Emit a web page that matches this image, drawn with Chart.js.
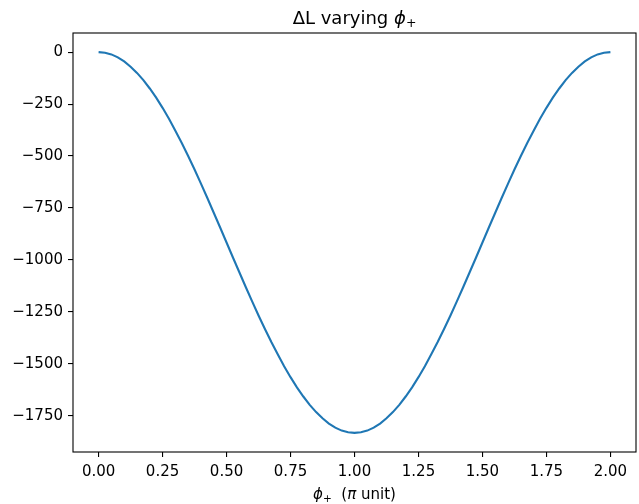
<!DOCTYPE html>
<html lang="en">
<head>
<meta charset="UTF-8">
<title>ΔL varying ϕ+</title>
<script src="https://cdn.jsdelivr.net/npm/chart.js"></script>
<style>
    body { margin: 0; background: #ffffff; }
    #wrap { width: 639px; height: 504px; }
</style>
</head>
<body>
<div id="wrap"><canvas id="dlChart"></canvas></div>
<script>
// phi_+ in units of pi, every 0.025
const phiValues = [0.000, 0.025, 0.050, 0.075, 0.100, 0.125, 0.150, 0.175, 0.200, 0.225,
                   0.250, 0.275, 0.300, 0.325, 0.350, 0.375, 0.400, 0.425, 0.450, 0.475,
                   0.500, 0.525, 0.550, 0.575, 0.600, 0.625, 0.650, 0.675, 0.700, 0.725,
                   0.750, 0.775, 0.800, 0.825, 0.850, 0.875, 0.900, 0.925, 0.950, 0.975,
                   1.000, 1.025, 1.050, 1.075, 1.100, 1.125, 1.150, 1.175, 1.200, 1.225,
                   1.250, 1.275, 1.300, 1.325, 1.350, 1.375, 1.400, 1.425, 1.450, 1.475,
                   1.500, 1.525, 1.550, 1.575, 1.600, 1.625, 1.650, 1.675, 1.700, 1.725,
                   1.750, 1.775, 1.800, 1.825, 1.850, 1.875, 1.900, 1.925, 1.950, 1.975, 2.000];
// Delta L
const deltaL = [0, -3, -11, -25, -45, -70, -100, -135, -175, -219,
                -268, -321, -378, -437, -500, -565, -633, -702, -773, -844,
                -916, -988, -1059, -1130, -1199, -1267, -1332, -1395, -1454, -1511,
                -1564, -1613, -1657, -1697, -1732, -1762, -1787, -1807, -1821, -1829,
                -1832, -1829, -1821, -1807, -1787, -1762, -1732, -1697, -1657, -1613,
                -1564, -1511, -1454, -1395, -1332, -1267, -1199, -1130, -1059, -988,
                -916, -844, -773, -702, -633, -565, -500, -437, -378, -321,
                -268, -219, -175, -135, -100, -70, -45, -25, -11, -3, 0];
const xTicks = [0, 0.25, 0.5, 0.75, 1, 1.25, 1.5, 1.75, 2];
const yTicks = [0, -250, -500, -750, -1000, -1250, -1500, -1750];

const tickFont = { family: 'DejaVu Sans', size: 15 };

// draw a row of text pieces (for italic phi / subscript +), centred on cx
function drawPieces(ctx, pieces, cx, cy) {
    ctx.save();
    ctx.fillStyle = '#000000';
    ctx.textBaseline = 'alphabetic';
    let total = 0;
    pieces.forEach(p => { ctx.font = p.font; p.w = ctx.measureText(p.text).width; total += p.w; });
    let x = cx - total / 2;
    pieces.forEach(p => {
        ctx.font = p.font;
        ctx.fillText(p.text, x, cy + (p.dy || 0));
        x += p.w;
    });
    ctx.restore();
}

const labels = {
    id: 'labels',
    afterDraw(chart) {
        const a = chart.chartArea, ctx = chart.ctx;
        const cx = (a.left + a.right) / 2;
        // frame round the plot area
        ctx.save();
        ctx.strokeStyle = '#000000';
        ctx.lineWidth = 1.1;
        ctx.strokeRect(a.left, a.top, a.right - a.left, a.bottom - a.top);
        ctx.restore();
        // title
        drawPieces(ctx, [
            { text: 'ΔL varying ', font: '18px "DejaVu Sans"' },
            { text: 'ϕ', font: 'italic 18px "DejaVu Sans"' },
            { text: '+', font: '12.5px "DejaVu Sans"', dy: 3 }
        ], cx, 24);
        // x axis label
        drawPieces(ctx, [
            { text: 'ϕ', font: 'italic 15px "DejaVu Sans"' },
            { text: '+', font: '10.5px "DejaVu Sans"', dy: 3 },
            { text: '  (', font: '15px "DejaVu Sans"' },
            { text: 'π', font: 'italic 15px "DejaVu Sans"' },
            { text: ' unit)', font: '15px "DejaVu Sans"' }
        ], cx, 499);
    }
};

new Chart(document.getElementById('dlChart'), {
    type: 'line',
    data: {
        datasets: [{
            data: phiValues.map((x, i) => ({ x: x, y: deltaL[i] })),
            borderColor: '#1f77b4',
            borderWidth: 2.1,
            pointRadius: 0,
            tension: 0,
            fill: false
        }]
    },
    options: {
        responsive: true,
        maintainAspectRatio: false,
        animation: false,
        layout: { padding: { left: 0, right: 3, top: 33, bottom: 0 } },
        plugins: {
            legend: { display: false },
            tooltip: { enabled: false },
            title: { display: false }
        },
        scales: {
            x: {
                type: 'linear',
                min: -0.1,
                max: 2.1,
                afterBuildTicks: axis => { axis.ticks = xTicks.map(v => ({ value: v })); },
                afterFit: axis => { axis.height = 52; },
                grid: { display: true, drawOnChartArea: false, drawTicks: true, tickLength: 5, color: '#000000', lineWidth: 1.1 },
                border: { display: false },
                ticks: {
                    color: '#000000',
                    font: tickFont,
                    padding: 6,
                    maxRotation: 0,
                    autoSkip: false,
                    callback: v => v.toFixed(2)
                }
            },
            y: {
                type: 'linear',
                min: -1924,
                max: 92,
                afterBuildTicks: axis => { axis.ticks = yTicks.map(v => ({ value: v })); },
                afterFit: axis => { axis.width = 73; },
                grid: { display: true, drawOnChartArea: false, drawTicks: true, tickLength: 5, color: '#000000', lineWidth: 1.1 },
                border: { display: false },
                ticks: {
                    color: '#000000',
                    font: tickFont,
                    padding: 5,
                    autoSkip: false,
                    callback: v => (v < 0 ? '\u2212' + Math.abs(v) : String(v))
                }
            }
        }
    },
    plugins: [labels]
});
</script>
</body>
</html>
